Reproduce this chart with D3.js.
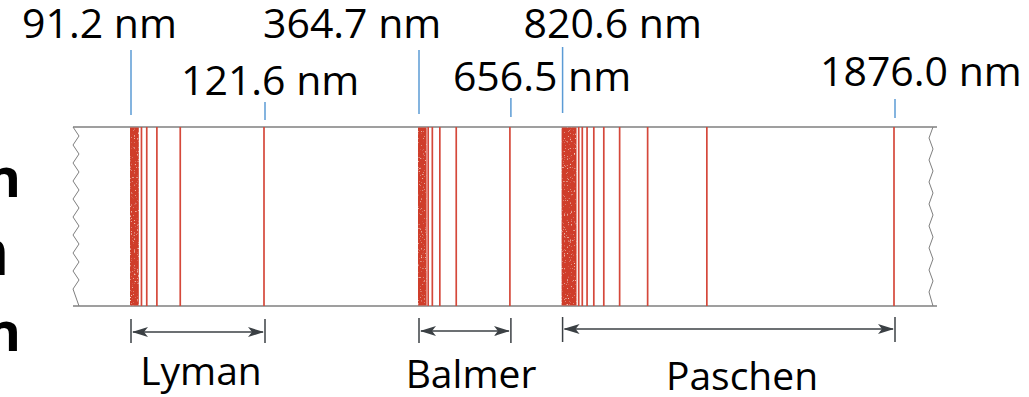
<!DOCTYPE html>
<html>
<head>
<meta charset="utf-8">
<script src="https://cdn.jsdelivr.net/npm/d3@7"></script>
<style>
  html, body { margin: 0; padding: 0; background: #ffffff; }
  svg { display: block; font-family: "Open Sans", "Liberation Sans", sans-serif; }
</style>
</head>
<body>
<script>
// ---------- data ----------
const seriesNames   = ["Lyman", "Balmer", "Paschen"];
const seriesLimits  = [91.2, 364.7, 820.6];      // series limit (nm)
const seriesBlockEnd = [93.2, 392.0, 868.0];     // where dense crowding of lines ends (nm)
const lymanLines    = [121.6, 102.6, 97.3, 95.0, 93.8];
const balmerLines   = [656.5, 486.1, 434.0, 410.2, 397.0];
const paschenLines  = [1876.0, 1281.8, 1093.8, 1004.9, 954.6, 922.9, 901.5, 886.3, 875.0];
const seriesFirst   = [121.6, 656.5, 1876.0];    // longest-wavelength line of each series
const markerValues  = [91.2, 364.7, 820.6, 121.6, 656.5, 1876.0];
const markerLabels  = ["91.2 nm", "364.7 nm", "820.6 nm", "121.6 nm", "656.5 nm", "1876.0 nm"];
const sideGlyphs    = ["n", "n", "n"];

// ---------- layout ----------
const W = 1029, H = 397;
const bandTop = 127, bandBottom = 306, bandLeft = 73, bandRight = 937;
// piecewise scale: Lyman region drawn on a stretched scale, the rest on a common scale
const x = d3.scaleLinear()
  .domain([91.2, 121.6, 364.7, 1876.0])
  .range([130, 264, 418, 894]);

const markerLayout = [
  {dx: -108, base: 38, t0: 50, t1: 115},
  {dx: -155, base: 38, t0: 50, t1: 114},
  {dx: -38,  base: 38, t0: 47, t1: 113},
  {dx: -83,  base: 95, t0: 102, t1: 120},
  {dx: -57,  base: 91, t0: 98, t1: 117},
  {dx: -74,  base: 86, t0: 99, t1: 118}
];
const seriesLabelLayout = [
  {cx: 201, base: 385, armY: 332, b0: 319, b1: 343},
  {cx: 471, base: 388, armY: 331, b0: 318, b1: 343},
  {cx: 742, base: 390, armY: 329, b0: 317, b1: 342}
];
const glyphLayout = [
  {x: 21, y: 197, size: 54, weight: 700},
  {x: 10, y: 275, size: 66, weight: 400},
  {x: 21, y: 351, size: 54, weight: 700}
];

const lineColor = "#d5483a";
const blockColor = "#cf3d2c";
const bandColor = "#7f7f7f";
const blue = "#5b9bd5";
const arrowColor = "#3b4044";

const svg = d3.select("body").append("svg")
  .attr("width", W).attr("height", H);

const defs = svg.append("defs");
const f = defs.append("filter").attr("id", "speckle")
  .attr("x", 0).attr("y", 0).attr("width", 1).attr("height", 1);
f.append("feTurbulence").attr("type", "fractalNoise").attr("baseFrequency", 0.7)
  .attr("numOctaves", 2).attr("seed", 4).attr("result", "noise");
f.append("feColorMatrix").attr("in", "noise").attr("type", "matrix")
  .attr("values", "0 0 0 0 1  0 0 0 0 0.72  0 0 0 0 0.6  4 0 0 0 -2.55")
  .attr("result", "spk");
f.append("feComposite").attr("in", "spk").attr("in2", "SourceGraphic")
  .attr("operator", "atop");

defs.append("marker").attr("id", "ah")
  .attr("viewBox", "0 0 16 10").attr("refX", 15).attr("refY", 5)
  .attr("markerWidth", 16).attr("markerHeight", 10)
  .attr("markerUnits", "userSpaceOnUse").attr("orient", "auto-start-reverse")
  .append("path").attr("d", "M0,0 L16,5 L0,10 L4,5 Z").attr("fill", arrowColor);

// ---------- left cut-off glyphs (cropped in the source too) ----------
svg.append("g").selectAll("text").data(sideGlyphs).join("text")
  .attr("x", (d, i) => glyphLayout[i].x)
  .attr("y", (d, i) => glyphLayout[i].y)
  .attr("text-anchor", "end")
  .attr("font-size", (d, i) => glyphLayout[i].size)
  .attr("font-weight", (d, i) => glyphLayout[i].weight)
  .attr("fill", "#000")
  .text(d => d);

// ---------- spectral band outline ----------
function zig(xa, xb, period) {
  const pts = [];
  let k = 0;
  for (let y = bandTop; y <= bandBottom; y += period / 2, k++) {
    pts.push([k % 2 === 0 ? xa : xb, Math.min(y, bandBottom)]);
  }
  pts[pts.length - 1][1] = bandBottom;
  return pts;
}
const band = svg.append("g").attr("fill", "none").attr("stroke", bandColor)
  .attr("stroke-width", 1.5);
band.append("line").attr("x1", bandLeft).attr("x2", bandRight)
  .attr("y1", bandTop).attr("y2", bandTop);
band.append("line").attr("x1", bandLeft).attr("x2", bandRight)
  .attr("y1", bandBottom).attr("y2", bandBottom);
band.append("path").attr("stroke-width", 1)
  .attr("d", d3.line()(zig(bandLeft, bandLeft + 6, 18)));
band.append("path").attr("stroke-width", 1)
  .attr("d", d3.line()(zig(bandRight - 4, bandRight - 8, 22)));

// ---------- dense blocks at series limits ----------
svg.append("g").selectAll("rect").data(seriesLimits).join("rect")
  .attr("x", d => x(d))
  .attr("y", bandTop + 0.5)
  .attr("width", (d, i) => x(seriesBlockEnd[i]) - x(d))
  .attr("height", bandBottom - bandTop - 1)
  .attr("fill", blockColor)
  .attr("filter", "url(#speckle)");

// ---------- individual lines ----------
const allLines = [...lymanLines, ...balmerLines, ...paschenLines];
svg.append("g").selectAll("line").data(allLines).join("line")
  .attr("x1", d => x(d)).attr("x2", d => x(d))
  .attr("y1", bandTop).attr("y2", bandBottom)
  .attr("stroke", lineColor).attr("stroke-width", 1.7);

// ---------- wavelength markers ----------
const mk = svg.append("g");
mk.selectAll("line").data(markerValues).join("line")
  .attr("x1", d => x(d) + 1).attr("x2", d => x(d) + 1)
  .attr("y1", (d, i) => markerLayout[i].t0)
  .attr("y2", (d, i) => markerLayout[i].t1)
  .attr("stroke", blue).attr("stroke-width", 1.5);
mk.selectAll("text").data(markerLabels).join("text")
  .attr("x", (d, i) => x(markerValues[i]) + markerLayout[i].dx)
  .attr("y", (d, i) => markerLayout[i].base)
  .attr("font-size", 41)
  .attr("fill", "#000")
  .text(d => d);

// ---------- series span arrows ----------
const sp = svg.append("g").attr("stroke", arrowColor).attr("stroke-width", 1.5);
seriesNames.forEach((name, i) => {
  const L = seriesLabelLayout[i];
  const xa = x(seriesLimits[i]) + 1, xb = x(seriesFirst[i]) + 1;
  sp.append("line").attr("x1", xa).attr("x2", xa).attr("y1", L.b0).attr("y2", L.b1);
  sp.append("line").attr("x1", xb).attr("x2", xb).attr("y1", L.b0).attr("y2", L.b1);
  sp.append("line").attr("x1", xa + 2).attr("x2", xb - 2)
    .attr("y1", L.armY).attr("y2", L.armY)
    .attr("marker-start", "url(#ah)").attr("marker-end", "url(#ah)");
});
svg.append("g").selectAll("text").data(seriesNames).join("text")
  .attr("x", (d, i) => seriesLabelLayout[i].cx)
  .attr("y", (d, i) => seriesLabelLayout[i].base)
  .attr("text-anchor", "middle")
  .attr("font-size", 39)
  .attr("fill", "#000")
  .text(d => d);
</script>
</body>
</html>
